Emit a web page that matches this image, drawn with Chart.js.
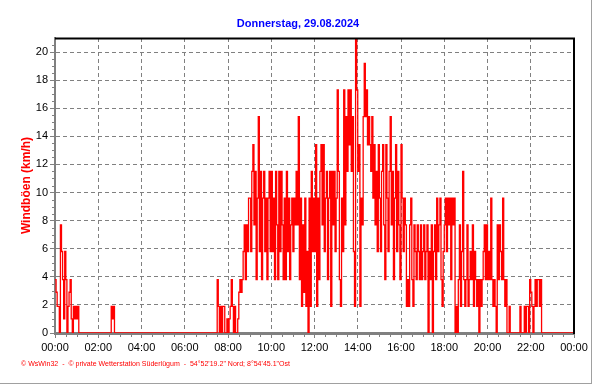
<!DOCTYPE html>
<html>
<head>
<meta charset="utf-8">
<script src="https://cdn.jsdelivr.net/npm/chart.js@4/dist/chart.umd.min.js"></script>
<style>
html,body{margin:0;padding:0;background:#fff;}
#wrap{position:relative;width:591px;height:383px;border-right:1px solid #a0a0a0;border-bottom:1px solid #a0a0a0;}
canvas{display:block;}
</style>
</head>
<body>
<div id="wrap"><canvas id="c" width="591" height="383"></canvas></div>
<script>
// ---- data (wind gusts in km/h, one value every 3 minutes) ----
const STEP_MIN = 3;
const gustKmh = [
  // 00:00
  3.8, 2.9, 1.9, 1.9, 0, 7.7, 5.8, 3.8, 1.0, 5.8, 3.8, 0, 1.9, 2.9, 3.8, 1.0, 0, 1.9, 1.0, 1.9,
  // 01:00
  1.0, 1.9, 0, 0, 0, 0, 0, 0, 0, 0, 0, 0, 0, 0, 0, 0, 0, 0, 0, 0,
  // 02:00
  0, 0, 0, 0, 0, 0, 0, 0, 0, 0, 0, 0, 1.9, 1.0, 1.9, 0, 0, 0, 0, 0,
  // 03:00
  0, 0, 0, 0, 0, 0, 0, 0, 0, 0, 0, 0, 0, 0, 0, 0, 0, 0, 0, 0,
  // 04:00
  0, 0, 0, 0, 0, 0, 0, 0, 0, 0, 0, 0, 0, 0, 0, 0, 0, 0, 0, 0,
  // 05:00
  0, 0, 0, 0, 0, 0, 0, 0, 0, 0, 0, 0, 0, 0, 0, 0, 0, 0, 0, 0,
  // 06:00
  0, 0, 0, 0, 0, 0, 0, 0, 0, 0, 0, 0, 0, 0, 0, 0, 0, 0, 0, 0,
  // 07:00
  0, 0, 0, 0, 0, 0, 0, 0, 0, 0, 3.8, 1.9, 0, 1.9, 0, 1.9, 1.9, 0, 0, 1.0,
  // 08:00
  0, 1.0, 1.9, 3.8, 1.9, 0, 1.9, 0, 0, 1.0, 2.9, 3.8, 2.9, 3.8, 5.8, 7.7, 3.8, 7.7, 5.8, 9.6,
  // 09:00
  9.6, 5.8, 11.5, 13.4, 7.7, 11.5, 3.8, 9.6, 15.4, 5.8, 11.5, 3.8, 9.6, 11.5, 5.8, 9.6, 3.8, 9.6, 11.5, 5.8,
  // 10:00
  11.5, 5.8, 9.6, 3.8, 11.5, 7.7, 3.8, 11.5, 5.8, 11.5, 7.7, 3.8, 9.6, 3.8, 11.5, 5.8, 9.6, 3.8, 7.7, 9.6,
  // 11:00
  5.8, 9.6, 7.7, 11.5, 7.7, 15.4, 3.8, 9.6, 1.9, 7.7, 2.9, 9.6, 1.9, 5.8, 0, 9.6, 1.9, 11.5, 5.8, 9.6,
  // 12:00
  5.8, 13.4, 1.9, 9.6, 3.8, 11.5, 13.4, 7.7, 13.4, 5.8, 9.6, 11.5, 3.8, 9.6, 11.5, 1.9, 11.5, 7.7, 11.5, 5.8,
  // 13:00
  9.6, 17.3, 11.5, 3.8, 1.9, 9.6, 5.8, 17.3, 7.7, 15.4, 11.5, 17.3, 13.4, 17.3, 11.5, 15.4, 5.8, 1.9, 22.0, 17.3,
  // 14:00
  11.5, 13.4, 1.9, 9.6, 7.7, 15.4, 19.2, 15.4, 17.3, 13.4, 15.4, 13.4, 11.5, 15.4, 9.6, 13.4, 7.7, 11.5, 5.8, 13.4,
  // 15:00
  9.6, 5.8, 11.5, 13.4, 7.7, 3.8, 13.4, 9.6, 5.8, 11.5, 15.4, 7.7, 11.5, 3.8, 9.6, 13.4, 5.8, 11.5, 7.7, 3.8,
  // 16:00
  13.4, 9.6, 5.8, 9.6, 7.7, 1.9, 3.8, 1.9, 7.7, 9.6, 3.8, 1.9, 7.7, 5.8, 3.8, 7.7, 5.8, 3.8, 7.7, 3.8,
  // 17:00
  5.8, 7.7, 3.8, 5.8, 7.7, 0, 5.8, 3.8, 7.7, 0, 5.8, 7.7, 3.8, 9.6, 5.8, 7.7, 9.6, 3.8, 1.9, 5.8,
  // 18:00
  7.7, 9.6, 5.8, 9.6, 7.7, 9.6, 3.8, 9.6, 7.7, 9.6, 0, 1.9, 0, 3.8, 7.7, 1.9, 5.8, 11.5, 3.8, 1.9,
  // 19:00
  3.8, 7.7, 1.9, 3.8, 5.8, 3.8, 7.7, 1.9, 5.8, 3.8, 1.9, 3.8, 0, 3.8, 1.9, 3.8, 5.8, 7.7, 3.8, 7.7,
  // 20:00
  3.8, 5.8, 3.8, 9.6, 3.8, 1.9, 3.8, 1.9, 0, 7.7, 3.8, 7.7, 5.8, 3.8, 9.6, 3.8, 1.9, 3.8, 0, 0,
  // 21:00
  1.9, 0, 0, 0, 0, 0, 0, 0, 0, 0, 1.9, 0, 0, 0, 1.9, 0, 1.9, 1.9, 0, 3.8,
  // 22:00
  2.9, 1.9, 0, 1.9, 3.8, 1.9, 3.8, 3.8, 1.9, 3.8, 0, 0, 0, 0, 0, 0, 0, 0, 0, 0,
  // 23:00
  0, 0, 0, 0, 0, 0, 0, 0, 0, 0, 0, 0, 0, 0, 0, 0, 0, 0, 0, 0
];
const xTickMinutes = [0, 120, 240, 360, 480, 600, 720, 840, 960, 1080, 1200, 1320, 1440];
const xTickLabels = ['00:00', '02:00', '04:00', '06:00', '08:00', '10:00', '12:00', '14:00', '16:00', '18:00', '20:00', '22:00', '00:00'];
const yTickValues = [0, 2, 4, 6, 8, 10, 12, 14, 16, 18, 20];
const chartTitle = 'Donnerstag, 29.08.2024';
const yAxisTitle = 'Windböen (km/h)';
const footerText = '\u00A9 WsWin32  -  \u00A9 private Wetterstation Süderlügum  -  54°52\'19.2" Nord; 8°54\'45.1"Ost';

const points = gustKmh.map((v, i) => ({ x: i * STEP_MIN, y: v }));
points.push({ x: 1440, y: gustKmh[gustKmh.length - 1] });

const FONT = '"Liberation Sans", Arial, sans-serif';
Chart.defaults.font.family = FONT;

const decor = {
  id: 'decor',
  afterLayout(chart) {
    // centre the title on the full picture width
    if (chart.titleBlock) {
      chart.titleBlock.left = 0;
      chart.titleBlock.right = 596;
    }
  },
  afterDraw(chart) {
    const { ctx, chartArea, scales: { x, y } } = chart;
    ctx.save();
    // minor ticks
    ctx.strokeStyle = '#808080';
    ctx.lineWidth = 1;
    ctx.beginPath();
    for (let m = 30; m < 1440; m += 30) {
      if (m % 120 === 0) continue;
      const px = Math.round(x.getPixelForValue(m)) + 0.5;
      ctx.moveTo(px, chartArea.bottom);
      ctx.lineTo(px, chartArea.bottom + 4);
    }
    for (let v = 0.5; v < 21; v += 0.5) {
      if (v % 2 === 0) continue;
      const py = Math.round(y.getPixelForValue(v)) + 0.5;
      ctx.moveTo(chartArea.left - 3, py);
      ctx.lineTo(chartArea.left, py);
    }
    ctx.stroke();
    // top and right frame
    ctx.strokeStyle = '#000';
    ctx.lineWidth = 2;
    ctx.beginPath();
    ctx.moveTo(chartArea.left, chartArea.top + 0.5);
    ctx.lineTo(chartArea.right, chartArea.top + 0.5);
    ctx.lineTo(chartArea.right, chartArea.bottom + 1);
    ctx.stroke();
    // footer
    ctx.fillStyle = '#ff0000';
    ctx.font = '7.5px ' + FONT;
    ctx.textBaseline = 'alphabetic';
    const w = ctx.measureText(footerText).width;
    ctx.translate(21, 366);
    ctx.scale(269 / w, 1);
    ctx.fillText(footerText, 0, 0);
    ctx.restore();
  }
};

new Chart(document.getElementById('c'), {
  type: 'line',
  data: {
    datasets: [{
      data: points,
      borderColor: '#ff0000',
      borderWidth: 1.3,
      pointRadius: 0,
      stepped: true,
      fill: false,
      tension: 0
    }]
  },
  options: {
    responsive: false,
    animation: false,
    devicePixelRatio: 1,
    layout: { padding: { left: 0, right: 17, top: 0, bottom: 0 } },
    plugins: {
      legend: { display: false },
      tooltip: { enabled: false },
      title: {
        display: true,
        text: chartTitle,
        color: '#0000ff',
        font: { size: 11, weight: 'bold', family: FONT },
        padding: { top: 17, bottom: 7.8 }
      }
    },
    scales: {
      x: {
        type: 'linear',
        min: 0,
        max: 1440,
        afterBuildTicks: s => { s.ticks = xTickMinutes.map(v => ({ value: v })); },
        afterFit: s => { s.height = 50; },
        ticks: {
          autoSkip: false,
          maxRotation: 0,
          color: '#000',
          font: { size: 11, family: FONT },
          padding: 3,
          callback: v => xTickLabels[xTickMinutes.indexOf(v)]
        },
        grid: { color: '#808080', lineWidth: 1, tickLength: 5, tickColor: '#808080' },
        border: { display: true, color: '#808080', width: 3, dash: [4, 3] }
      },
      y: {
        type: 'linear',
        min: 0,
        max: 21,
        afterBuildTicks: s => { s.ticks = yTickValues.map(v => ({ value: v })); },
        afterFit: s => { s.width = 55; },
        ticks: {
          color: '#000',
          font: { size: 11, family: FONT },
          padding: 2
        },
        grid: { color: '#808080', lineWidth: 1, tickLength: 5, tickColor: '#808080' },
        border: { display: true, color: '#808080', width: 2, dash: [4, 3] },
        title: {
          display: true,
          text: yAxisTitle,
          color: '#ff0000',
          font: { size: 12, weight: 'bold', family: FONT },
          padding: { top: 19, bottom: 0 }
        }
      }
    }
  },
  plugins: [decor]
});
</script>
</body>
</html>
